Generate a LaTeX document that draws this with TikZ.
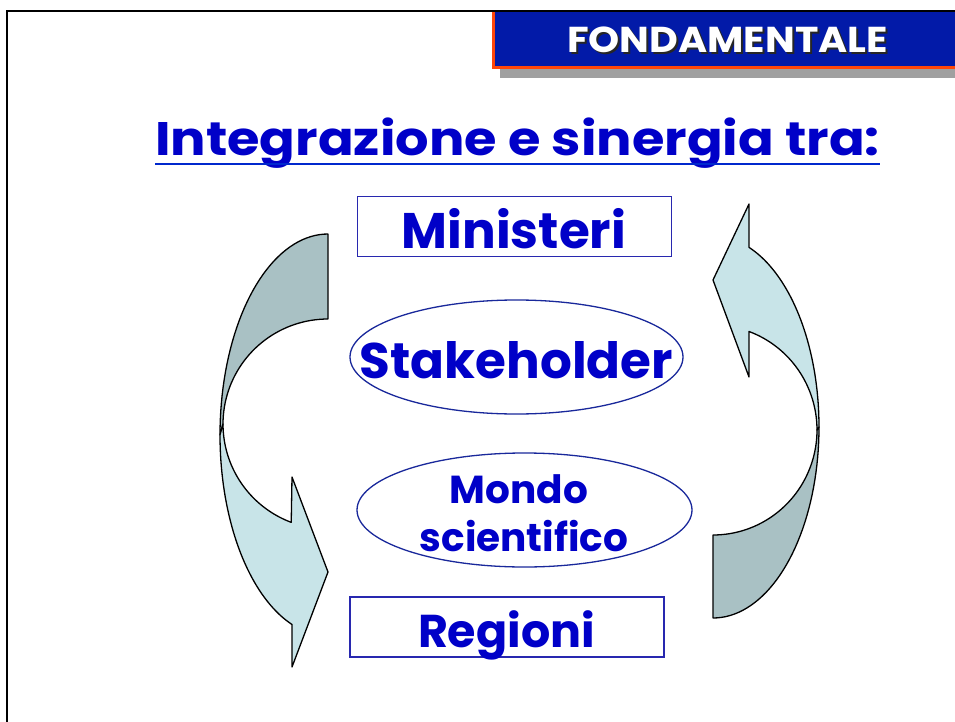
\documentclass[tikz,border=0pt]{standalone}
\usepackage{fontspec}
\setmainfont{Poppins}
\usetikzlibrary{shapes.geometric}
\definecolor{txtblue}{RGB}{0,0,200}
\definecolor{boxblue}{RGB}{40,40,175}
\definecolor{ellblue}{RGB}{25,40,155}
\definecolor{hdrblue}{RGB}{2,26,168}
\definecolor{hdrorange}{RGB}{255,70,10}
\definecolor{hdrshadow}{RGB}{160,160,160}
\definecolor{arrdark}{RGB}{169,193,196}
\definecolor{arrlight}{RGB}{200,228,232}
\tikzset{
  lbl/.style={text=txtblue, font=\bfseries, inner sep=0pt},
  rectbox/.style={draw=boxblue, line width=1.4pt, minimum width=314pt, minimum height=60pt, inner sep=0pt},
  ovalbox/.style={draw=ellblue, line width=1.3pt, ellipse, inner sep=0pt},
  arrpart/.style={draw=black, line width=1.3pt, line join=round},
}
\begin{document}
\begin{tikzpicture}[x=1pt,y=-1pt]
\useasboundingbox (0,0) rectangle (955,722);
\fill[white] (0,0) rectangle (955,722);
% header
\fill[hdrshadow] (500,20) rectangle (960,78);
\fill[hdrorange] (492,12) rectangle (960,69);
\fill[hdrblue] (495,12) rectangle (960,66);
\node[font=\bfseries\fontsize{36}{40}\selectfont, text=black!85, inner sep=0pt, anchor=base] (hdrsh) at (729.5,55) {\scalebox{1.1}[1]{FONDAMENTALE}};
\node[font=\bfseries\fontsize{36}{40}\selectfont, text=white, inner sep=0pt, anchor=base] (hdr) at (727.5,53) {\scalebox{1.1}[1]{FONDAMENTALE}};
% frame
\draw[black, line width=2pt] (7,722) -- (7,11) -- (960,11);
% title
\node[lbl, font=\bfseries\fontsize{47}{50}\selectfont, anchor=base] (title) at (517.5,156) {\scalebox{1.12}[1]{Integrazione e sinergia tra:}};
\draw[color={rgb,255:red,0;green,40;blue,205}, line width=2.5pt] (155,164) -- (880,164);
% arrows
\filldraw[arrpart, fill=arrdark] (328,234) -- (328,319)
  -- plot[domain=270:180, samples=40, variable=\t] ({328+105*cos(\t)}, {424+105*sin(\t)})
  -- plot[domain=180:270, samples=40, variable=\t] ({328+108*cos(\t)}, {435+201*sin(\t)}) -- cycle;
\filldraw[arrpart, fill=arrlight]
  plot[domain=180:110.5, samples=40, variable=\t] ({328+105*cos(\t)}, {424+105*sin(\t)})
  -- (292,477) -- (328,572) -- (292,667) -- (292,624.5)
  -- plot[domain=109.5:180, samples=40, variable=\t] ({328+108*cos(\t)}, {435+201*sin(\t)}) -- cycle;
\filldraw[arrpart, fill=arrdark] (713,618) -- (713,535)
  -- plot[domain=90:0, samples=40, variable=\t] ({713+104*cos(\t)}, {430+105*sin(\t)})
  -- plot[domain=0:90, samples=40, variable=\t] ({713+106*cos(\t)}, {427+191*sin(\t)}) -- cycle;
\filldraw[arrpart, fill=arrlight]
  plot[domain=0:-69.8, samples=40, variable=\t] ({713+104*cos(\t)}, {430+105*sin(\t)})
  -- (749,377) -- (713,280) -- (749,204) -- (749,247.4)
  -- plot[domain=-70.1:0, samples=40, variable=\t] ({713+106*cos(\t)}, {427+191*sin(\t)}) -- cycle;
% boxes
\node[rectbox] (min) at (514.5,226.5) {};
\node[lbl, font=\bfseries\fontsize{50}{54}\selectfont, anchor=base] (mintxt) at (514,248) {Ministeri};
\node[ovalbox, minimum width=333pt, minimum height=114pt] (stake) at (516.5,357) {};
\node[lbl, font=\bfseries\fontsize{50}{54}\selectfont, anchor=base] (staketxt) at (516.5,378) {Stakeholder};
\node[ovalbox, minimum width=335pt, minimum height=114pt] (mondo) at (524.5,510) {};
\node[lbl, font=\bfseries\fontsize{39}{42}\selectfont, anchor=base] (mondotxt1) at (519,503) {Mondo};
\node[lbl, font=\bfseries\fontsize{39}{42}\selectfont, anchor=base] (mondotxt2) at (524,551) {scientifico};
\node[rectbox] (reg) at (507,627) {};
\node[lbl, font=\bfseries\fontsize{46}{50}\selectfont, anchor=base] (regtxt) at (506.5,647) {Regioni};
\end{tikzpicture}
\end{document}
